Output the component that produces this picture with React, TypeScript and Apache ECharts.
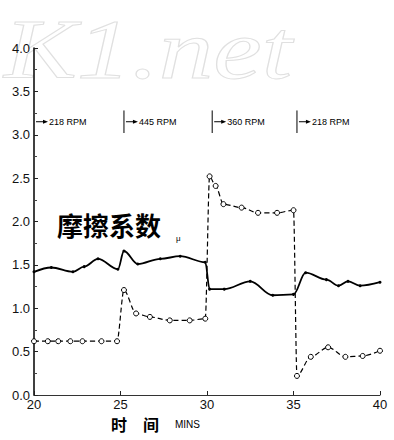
import React, { useEffect, useRef } from 'react';
import * as echarts from 'echarts';

// 时间 (min) / 摩擦系数 μ  — solid curve
const solidTime = [20.0, 21.0, 22.25, 22.9, 23.7, 24.85, 25.2, 26.0, 27.3, 28.45, 29.9, 30.15, 31.0, 32.5, 33.8, 35.0, 35.7, 36.9, 37.6, 38.15, 38.85, 40.0];
const solidMu = [1.42, 1.47, 1.42, 1.48, 1.57, 1.45, 1.66, 1.51, 1.57, 1.6, 1.53, 1.22, 1.22, 1.31, 1.15, 1.16, 1.41, 1.33, 1.26, 1.31, 1.26, 1.3];

// dashed curve with open circles
const dashTime = [20.0, 20.8, 21.4, 22.1, 22.8, 23.9, 24.8, 25.2, 25.9, 26.7, 27.85, 29.0, 29.9, 30.15, 30.5, 30.95, 32.0, 32.95, 34.05, 35.0, 35.2, 36.0, 37.0, 38.0, 39.0, 40.0];
const dashMu = [0.62, 0.62, 0.62, 0.62, 0.62, 0.62, 0.62, 1.21, 0.94, 0.9, 0.86, 0.86, 0.88, 2.52, 2.41, 2.2, 2.16, 2.1, 2.1, 2.13, 0.22, 0.44, 0.55, 0.44, 0.45, 0.51];

// speed change annotations
const rpmTime = [20.0, 25.2, 30.3, 35.2];
const rpmLabels = ['218 RPM', '445 RPM', '360 RPM', '218 RPM'];
const rpmLevel = 3.15;

const xTicks = [20, 25, 30, 35, 40];

export default function App() {
  const ref = useRef<HTMLDivElement>(null);
  useEffect(() => {
    if (!ref.current) return;
    const chart = echarts.init(ref.current, null, { renderer: 'svg' });
    const option: any = {
      animation: false,
      backgroundColor: '#ffffff',
      grid: { left: 34, right: 14, top: 48, bottom: 45 },
      xAxis: {
        type: 'value',
        min: xTicks[0],
        max: xTicks[xTicks.length - 1],
        interval: 5,
        axisLine: { lineStyle: { color: '#333', width: 1 } },
        axisTick: { inside: true, length: 4, lineStyle: { color: '#222' } },
        axisLabel: { color: '#111', fontSize: 13, fontFamily: 'Liberation Sans', margin: 3 },
        splitLine: { show: false },
      },
      yAxis: {
        type: 'value',
        min: 0,
        max: 4,
        interval: 0.5,
        axisLine: { show: true, lineStyle: { color: '#000', width: 1.5 } },
        axisTick: { show: true, inside: true, length: 4, lineStyle: { color: '#222' } },
        minorTick: { show: true, splitNumber: 2, length: 3, lineStyle: { color: '#444' } },
        axisLabel: {
          color: '#111',
          fontSize: 13,
          fontFamily: 'Liberation Sans',
          margin: 4,
          formatter: (v: number) => v.toFixed(1),
        },
        splitLine: { show: false },
      },
      graphic: [
        {
          type: 'text',
          x: 4,
          y: 8,
          scaleX: 1.3,
          silent: true,
          z: -10,
          style: {
            text: 'K1.net',
            font: 'italic 84px "Liberation Serif"',
            fill: 'rgba(0,0,0,0)',
            stroke: '#e0e0e0',
            lineWidth: 1,
          },
        },
        {
          type: 'text',
          left: 57,
          top: 211,
          style: { text: '摩擦系数', font: 'bold 26px "Noto Sans CJK SC"', fill: '#000' },
        },
        {
          type: 'text',
          left: 176,
          top: 234,
          style: { text: 'μ', font: '8px "Liberation Sans"', fill: '#000' },
        },
        {
          type: 'text',
          left: 111,
          top: 416,
          style: { text: '时', font: 'bold 16px "Noto Sans CJK SC"', fill: '#000' },
        },
        {
          type: 'text',
          left: 143,
          top: 416,
          style: { text: '间', font: 'bold 16px "Noto Sans CJK SC"', fill: '#000' },
        },
        {
          type: 'text',
          left: 175,
          top: 419,
          style: { text: 'MINS', font: '10px "Liberation Sans"', fill: '#000' },
        },
      ],
      series: [
        {
          name: 'solid',
          type: 'line',
          data: solidTime.map((t, i) => [t, solidMu[i]]),
          smooth: 0.35,
          smoothMonotone: 'x',
          symbol: 'circle',
          symbolSize: 3,
          itemStyle: { color: '#000' },
          lineStyle: { color: '#000', width: 1.8 },
          z: 3,
        },
        {
          name: 'dashed',
          type: 'line',
          data: dashTime.map((t, i) => [t, dashMu[i]]),
          smooth: 0.3,
          smoothMonotone: 'x',
          symbol: 'circle',
          symbolSize: 5,
          showAllSymbol: true,
          itemStyle: { color: '#fff', borderColor: '#000', borderWidth: 1 },
          lineStyle: { color: '#000', width: 1.2, type: [5, 3] },
          z: 4,
        },
        {
          name: 'rpm',
          type: 'custom',
          clip: false,
          data: rpmTime.map((t) => [t, rpmLevel]),
          renderItem: (params: any, api: any) => {
            const x = api.value(0);
            const p = api.coord([x, api.value(1)]);
            const top = api.coord([x, api.value(1) + 0.13]);
            const bot = api.coord([x, api.value(1) - 0.13]);
            const children: any[] = [];
            if (params.dataIndex > 0) {
              children.push({
                type: 'line',
                shape: { x1: p[0], y1: top[1], x2: p[0], y2: bot[1] },
                style: { stroke: '#000', lineWidth: 1 },
              });
            }
            children.push(
              {
                type: 'line',
                shape: { x1: p[0] + 2, y1: p[1], x2: p[0] + 11, y2: p[1] },
                style: { stroke: '#000', lineWidth: 1 },
              },
              {
                type: 'polygon',
                shape: { points: [[p[0] + 14, p[1]], [p[0] + 9, p[1] - 2], [p[0] + 9, p[1] + 2]] },
                style: { fill: '#000' },
              },
              {
                type: 'text',
                style: {
                  text: rpmLabels[params.dataIndex],
                  x: p[0] + 15,
                  y: p[1],
                  verticalAlign: 'middle',
                  font: '9px "Liberation Sans"',
                  fill: '#000',
                },
              }
            );
            return { type: 'group', children };
          },
          z: 5,
        },
      ],
    };
    chart.setOption(option);
    return () => chart.dispose();
  }, []);
  return (
    <div
      ref={ref}
      style={{ position: 'fixed', left: 0, top: 0, width: 394, height: 440, background: '#fff' }}
    />
  );
}
